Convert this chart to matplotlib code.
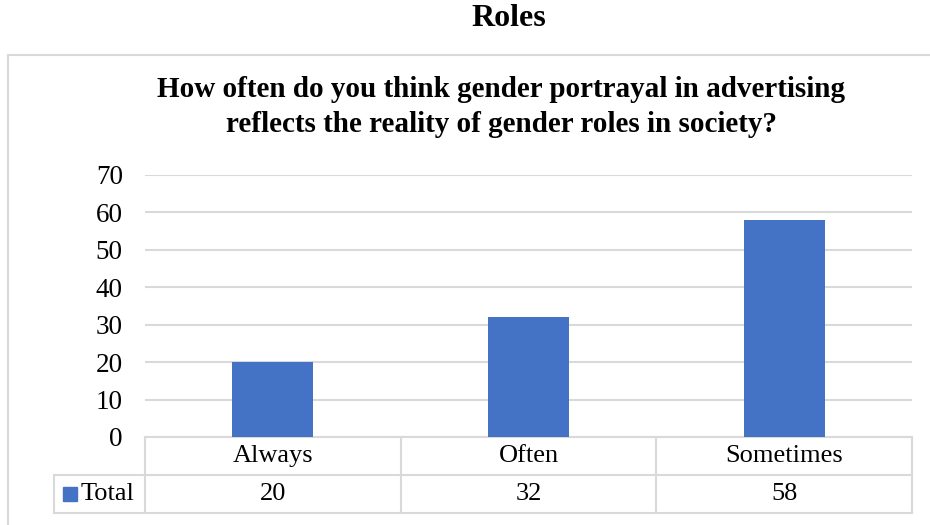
import matplotlib.pyplot as plt
from matplotlib.patches import Rectangle
from matplotlib.lines import Line2D

# survey answers
categories = ['Always', 'Often', 'Sometimes']
totals = [20, 32, 58]
series_name = 'Total'
yticks = [0, 10, 20, 30, 40, 50, 60, 70]

BLUE = '#4472C4'
GRID = '#d9d9d9'
plt.rcParams['font.family'] = ['Liberation Serif', 'DejaVu Serif']

W, H = 930, 525
fig = plt.figure(figsize=(W / 100, H / 100), dpi=100)

def fx(px): return px / W
def fy(py): return 1 - py / H

# outer chart frame
fig.patches.append(Rectangle((fx(8), fy(530)), fx(940) - fx(8), fy(55) - fy(530),
                             transform=fig.transFigure, fill=False,
                             edgecolor=GRID, lw=1.5))

fig.text(fx(509), fy(19), 'Roles', ha='center', va='center',
         fontsize=23, fontweight='bold')
fig.text(fx(501), fy(107), 'How often do you think gender portrayal in advertising\n'
         'reflects the reality of gender roles in society?',
         ha='center', va='center', fontsize=21, fontweight='bold', linespacing=1.35)

ax = fig.add_axes([fx(145), fy(437), fx(912) - fx(145), fy(175) - fy(437)])
x = range(len(categories))
ax.bar(x, totals, width=0.316, color=BLUE, zorder=3)
ax.set_xlim(-0.5, len(categories) - 0.5)
ax.set_ylim(0, 70)
ax.set_yticks(yticks)
ax.set_yticklabels([str(t) for t in yticks], fontsize=19.5)
ax.tick_params(axis='y', length=0, pad=16)
ax.set_xticks([])
ax.grid(axis='y', color=GRID, lw=1.5, zorder=0)
for s in ax.spines.values():
    s.set_visible(False)

# data table under the axis
row = 38 / 262
n = len(categories)
left = (54 - 145) / 767
tr = ax.transAxes
def hline(x0, x1, y):
    ax.add_line(Line2D([x0, x1], [y, y], transform=tr, color=GRID, lw=1.5, clip_on=False))
def vline(x, y0, y1):
    ax.add_line(Line2D([x, x], [y0, y1], transform=tr, color=GRID, lw=1.5, clip_on=False))

hline(0, 1, 0)
hline(left, 1, -row)
hline(left, 1, -2 * row)
for i in range(n + 1):
    vline(i / n, 0, -2 * row)
vline(left, -row, -2 * row)

for i, (c, v) in enumerate(zip(categories, totals)):
    xc = (i + 0.5) / n
    ax.text(xc, -row / 2, c, transform=tr, ha='center', va='center', fontsize=19)
    ax.text(xc, -1.5 * row, str(v), transform=tr, ha='center', va='center', fontsize=19)

ax.add_patch(Rectangle(((63 - 145) / 767, -1.5 * row - 0.027), 14 / 767, 14 / 262,
                       transform=tr, color=BLUE, clip_on=False))
ax.text((81 - 145) / 767, -1.5 * row, series_name, transform=tr,
        ha='left', va='center', fontsize=19)

fig.savefig('out.png', dpi=100)
